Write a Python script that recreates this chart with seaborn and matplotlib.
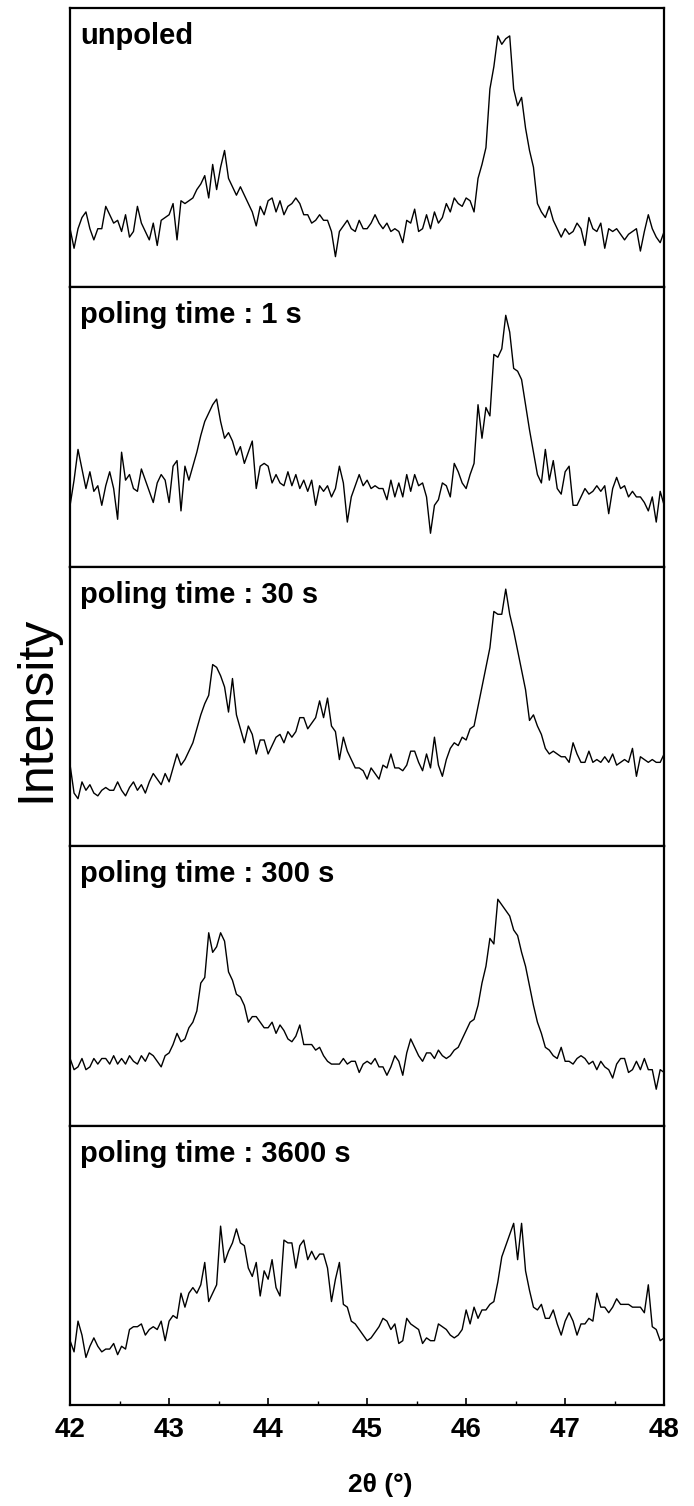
import numpy as np
import pandas as pd
import seaborn as sns
import matplotlib.pyplot as plt
from matplotlib.ticker import MultipleLocator

# 2-theta scan positions (degrees), 0.04 deg step
two_theta = np.round(np.linspace(42.0, 48.0, 151), 2)

# Intensities (arbitrary units, 0-100 of each panel height)
unpoled = [21, 14, 21, 25, 27, 21, 17, 21, 21, 29,
           26, 23, 24, 20, 26, 18, 20, 29, 23, 20,
           17, 23, 15, 24, 25, 26, 30, 17, 31, 30,
           31, 32, 35, 37, 40, 32, 44, 35, 43, 49,
           39, 36, 33, 36, 33, 30, 27, 22, 29, 26,
           31, 32, 27, 31, 26, 29, 30, 32, 30, 26,
           26, 23, 24, 26, 24, 24, 20, 11, 20, 22,
           24, 21, 20, 24, 21, 21, 23, 26, 23, 21,
           23, 20, 21, 20, 16, 24, 23, 28, 20, 21,
           26, 21, 27, 23, 25, 30, 27, 32, 30, 29,
           32, 31, 27, 39, 44, 50, 71, 79, 90, 87,
           89, 90, 71, 65, 68, 57, 49, 43, 30, 27,
           25, 29, 24, 21, 18, 21, 19, 20, 23, 21,
           15, 25, 21, 20, 23, 14, 21, 20, 21, 19,
           17, 19, 20, 21, 13, 20, 26, 21, 18, 16, 20]

poled_1s = [22, 31, 42, 35, 28, 34, 27, 29, 22, 29,
            34, 28, 17, 41, 31, 33, 28, 27, 35, 31,
            27, 23, 30, 33, 31, 23, 36, 38, 20, 36,
            31, 36, 41, 47, 52, 55, 58, 60, 52, 46,
            48, 45, 40, 43, 37, 41, 45, 28, 36, 37,
            36, 30, 33, 30, 29, 34, 29, 33, 28, 31,
            27, 31, 22, 29, 27, 29, 25, 28, 36, 30,
            16, 25, 29, 33, 29, 31, 28, 29, 28, 28,
            24, 31, 25, 30, 25, 33, 27, 33, 29, 30,
            25, 12, 22, 24, 30, 29, 25, 37, 34, 30,
            28, 33, 37, 58, 46, 57, 54, 76, 75, 78,
            90, 84, 71, 70, 67, 58, 49, 41, 33, 30,
            42, 31, 38, 28, 26, 34, 36, 22, 22, 25,
            28, 26, 27, 29, 27, 29, 19, 28, 32, 28,
            29, 25, 27, 25, 25, 23, 20, 25, 16, 27, 22]

poled_30s = [29, 19, 17, 23, 20, 22, 19, 18, 20, 21,
             20, 20, 23, 20, 18, 21, 23, 20, 22, 19,
             23, 26, 24, 22, 26, 23, 28, 33, 29, 31,
             34, 37, 42, 47, 51, 54, 65, 64, 61, 57,
             48, 60, 47, 42, 37, 43, 40, 33, 38, 38,
             33, 36, 39, 40, 37, 41, 39, 41, 46, 46,
             42, 44, 46, 52, 46, 53, 43, 41, 31, 39,
             34, 31, 28, 28, 27, 24, 28, 26, 24, 29,
             28, 33, 28, 28, 27, 29, 34, 34, 30, 27,
             33, 28, 39, 29, 25, 31, 35, 37, 36, 39,
             38, 42, 43, 50, 57, 64, 71, 84, 83, 83,
             92, 83, 77, 70, 63, 56, 45, 47, 43, 40,
             35, 33, 34, 33, 32, 32, 30, 37, 33, 30,
             30, 34, 30, 31, 30, 32, 30, 33, 29, 30,
             31, 30, 35, 25, 32, 31, 30, 31, 30, 30, 33]

poled_300s = [24, 20, 21, 24, 20, 21, 24, 22, 24, 24,
              22, 25, 22, 24, 22, 25, 23, 22, 25, 23,
              26, 25, 23, 21, 25, 26, 29, 33, 30, 31,
              35, 37, 41, 51, 53, 69, 62, 64, 69, 66,
              55, 52, 47, 46, 43, 37, 39, 39, 37, 35,
              35, 37, 33, 36, 34, 31, 30, 32, 36, 29,
              29, 29, 27, 28, 25, 23, 22, 22, 22, 24,
              22, 23, 23, 19, 22, 23, 22, 24, 21, 21,
              18, 21, 25, 23, 18, 26, 31, 28, 25, 23,
              26, 26, 24, 27, 25, 24, 25, 27, 28, 31,
              34, 37, 38, 43, 51, 57, 67, 65, 81, 79,
              77, 75, 70, 68, 62, 57, 50, 43, 37, 33,
              28, 27, 25, 24, 28, 23, 23, 22, 24, 25,
              24, 22, 23, 20, 23, 21, 20, 17, 22, 24,
              24, 19, 20, 23, 20, 24, 20, 20, 13, 20, 19]

poled_3600s = [23, 19, 30, 25, 17, 21, 24, 21, 19, 20,
               20, 22, 18, 21, 20, 27, 28, 28, 29, 25,
               27, 28, 27, 30, 23, 30, 32, 31, 40, 35,
               40, 42, 40, 43, 51, 37, 40, 43, 64, 51,
               55, 58, 63, 58, 57, 49, 46, 51, 39, 48,
               45, 52, 42, 39, 59, 58, 58, 49, 57, 59,
               52, 55, 52, 54, 54, 49, 37, 45, 51, 36,
               35, 30, 29, 27, 25, 23, 24, 26, 28, 31,
               30, 27, 29, 22, 23, 31, 29, 28, 27, 22,
               24, 23, 23, 29, 28, 27, 25, 24, 25, 27,
               34, 29, 35, 31, 34, 34, 36, 37, 44, 53,
               57, 61, 65, 52, 65, 48, 41, 35, 34, 36,
               31, 31, 34, 29, 25, 30, 33, 30, 25, 29,
               29, 31, 30, 40, 35, 35, 33, 35, 38, 36,
               36, 36, 35, 35, 35, 33, 43, 28, 27, 23, 24]

panel_labels = ["unpoled", "poling time : 1 s", "poling time : 30 s",
                "poling time : 300 s", "poling time : 3600 s"]
x_ticks = [42, 43, 44, 45, 46, 47, 48]

series = [unpoled, poled_1s, poled_30s, poled_300s, poled_3600s]
df = pd.concat([pd.DataFrame({"two_theta": two_theta, "intensity": s, "panel": lab})
                for s, lab in zip(series, panel_labels)], ignore_index=True)

sns.set_style("white")
plt.rcParams['font.family'] = ['Liberation Sans', 'DejaVu Sans']
plt.rcParams['text.color'] = 'black'
plt.rcParams['xtick.color'] = 'black'
plt.rcParams['ytick.color'] = 'black'
plt.rcParams['axes.labelcolor'] = 'black'

fig = plt.figure(figsize=(6.94, 15.06), dpi=100)
gs = fig.add_gridspec(5, 1, left=0.101, right=0.957, top=0.9947, bottom=0.0671, hspace=0)

for i, lab in enumerate(panel_labels):
    ax = fig.add_subplot(gs[i])
    sub = df[df["panel"] == lab]
    sns.lineplot(data=sub, x="two_theta", y="intensity", ax=ax, color="black",
                 linewidth=1.0, estimator=None, sort=False)
    ax.set_xlim(42, 48)
    ax.set_ylim(0, 100)
    ax.set_yticks([])
    ax.set_xlabel("")
    ax.set_ylabel("")
    for sp in ax.spines.values():
        sp.set_color("black")
        sp.set_linewidth(1.6)
    ax.text(0.017, 0.95, lab, transform=ax.transAxes, ha="left", va="top",
            fontsize=21, fontweight="bold", color="black")
    if i < 4:
        ax.set_xticks([])
    else:
        ax.xaxis.set_major_locator(MultipleLocator(1))
        ax.xaxis.set_minor_locator(MultipleLocator(0.5))
        ax.tick_params(axis="x", which="major", direction="in", length=5, width=1.2,
                       bottom=True, top=False, color="black", pad=9)
        ax.tick_params(axis="x", which="minor", direction="in", length=3, width=1.0,
                       bottom=True, top=False, color="black")
        ax.set_xticks(x_ticks)
        ax.set_xticklabels([str(t) for t in x_ticks], fontsize=20,
                           fontweight="bold", color="black")

fig.text(0.052, 0.529, "Intensity", rotation=90, ha="center", va="center",
         fontsize=36, color="black")
fig.text(0.548, 0.0139, "2θ (°)", ha="center", va="center", fontsize=19,
         fontweight="bold", color="black")

fig.savefig("out.png", dpi=100)
